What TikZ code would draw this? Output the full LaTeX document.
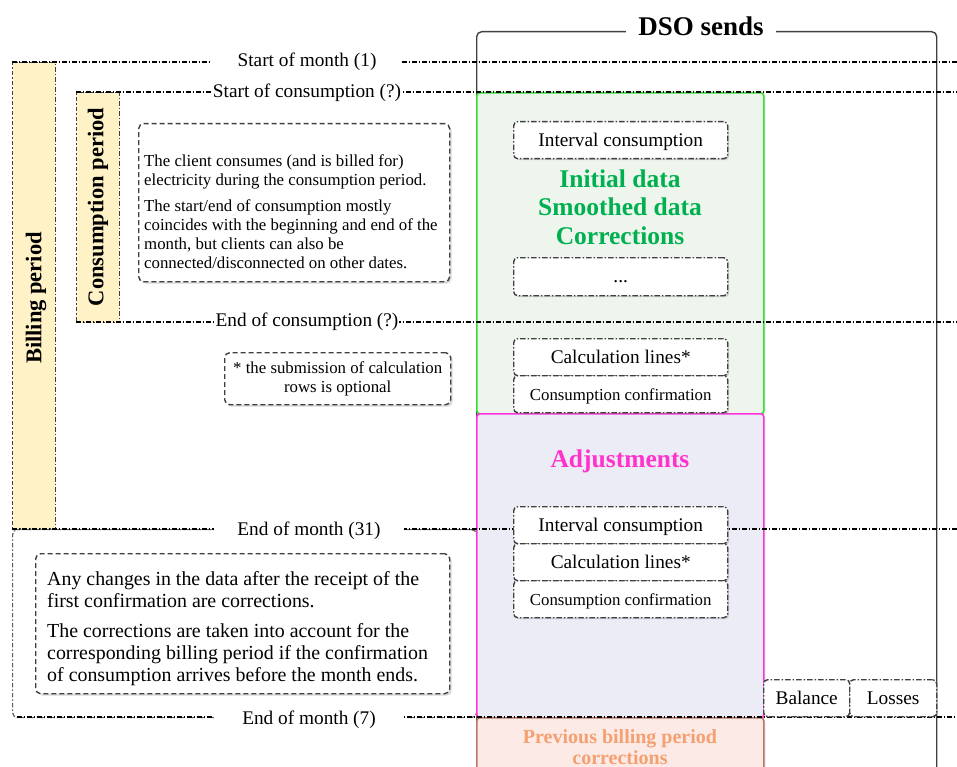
\documentclass[tikz,border=0pt]{standalone}
\usepackage{fontspec}
\setmainfont{Liberation Serif}
\usetikzlibrary{shadows}
\definecolor{periodyellow}{HTML}{FFF2C7}
\definecolor{greenfill}{HTML}{EDF5EC}
\definecolor{greenline}{HTML}{33E033}
\definecolor{greentext}{HTML}{00B050}
\definecolor{magline}{HTML}{FF33DD}
\definecolor{magfill}{HTML}{ECECF6}
\definecolor{magtext}{HTML}{FF33CC}
\definecolor{prevfill}{HTML}{FBEAE6}
\definecolor{prevline}{HTML}{B87868}
\definecolor{prevtext}{HTML}{F4A070}
\definecolor{boxline}{HTML}{404040}
\definecolor{dsoline}{HTML}{404040}
\newcommand\fLab{\fontsize{19.3}{23}\selectfont}
\newcommand\fSm{\fontsize{16.8}{19}\selectfont}
\newcommand\fBig{\fontsize{19.9}{22}\selectfont}
\newcommand\fHead{\fontsize{25.5}{28.5}\selectfont\bfseries}
\newcommand\fTitle{\fontsize{27}{30}\selectfont\bfseries}
\newcommand\fPer{\fontsize{22.5}{25}\selectfont\bfseries}
\newcommand\fPrev{\fontsize{20}{21.5}\selectfont\bfseries}
\begin{document}
\begin{tikzpicture}[x=1pt,y=-1pt,
 dd/.style={dash pattern=on 4.5pt off 2pt on 1.5pt off 2pt},
 periodline/.style={draw=black,line width=1.6pt,dd},
 periodbox/.style={draw=boxline,line width=1.3pt,dd,fill=periodyellow,anchor=north west,inner sep=0pt},
 periodtext/.style={rotate=90,font=\fPer,inner sep=0pt},
 monthlabel/.style={fill=white,font=\fLab,minimum width=190pt,inner sep=2pt},
 conslabel/.style={fill=white,font=\fLab,inner xsep=1pt,inner ysep=1pt},
 phasebox/.style={anchor=north west,inner sep=0pt,line width=1.6pt,rounded corners=3pt,
    drop shadow={shadow xshift=2pt,shadow yshift=-2pt,opacity=0.12}},
 datbox/.style={draw=boxline,line width=1.4pt,dash pattern=on 5.5pt off 2pt on 1.5pt off 2pt,rounded corners=4pt,fill=white,
    drop shadow={shadow xshift=1.5pt,shadow yshift=-1.5pt,opacity=0.3},
    anchor=north west,minimum width=214pt,inner sep=0pt,font=\fLab,text height=16pt,text depth=4pt},
 notebox/.style={draw=boxline,line width=1.4pt,dash pattern=on 5pt off 3pt,rounded corners=5pt,fill=white,
    drop shadow={shadow xshift=2pt,shadow yshift=-2pt,opacity=0.3},anchor=north west,inner sep=0pt},
 sidebox/.style={draw=boxline,line width=1.4pt,dash pattern=on 5.5pt off 2pt on 1.5pt off 2pt,rounded corners=4pt,fill=white,
    anchor=north west,inner sep=0pt,font=\fLab,minimum height=37pt,text height=16pt,text depth=4pt}
]
\useasboundingbox (0,0) rectangle (957,767);

% DSO column
\node[draw=dsoline,line width=1.4pt,rounded corners=5pt,anchor=north west,inner sep=0pt,minimum width=460pt,minimum height=780pt] (dso) at (476,31) {};

% periods
\node[periodbox,minimum width=43pt,minimum height=466pt] (billing) at (12,62) {};
\node[periodtext] (billingtext) at (36,298) {Billing period};
\node[periodbox,minimum width=43pt,minimum height=230pt] (consbox) at (76,92) {};
\node[periodtext] (constext) at (98,207) {Consumption period};

% late region
\node[draw=boxline!85,line width=1.2pt,dd,rounded corners=5pt,anchor=north west,inner sep=0pt,minimum width=464pt,minimum height=188pt] (lateregion) at (12,529) {};

% phase boxes
\node[phasebox,draw=greenline,fill=greenfill,minimum width=287pt,minimum height=321pt] (initbox) at (476,92) {};
\node[phasebox,draw=magline,fill=magfill,minimum width=287pt,minimum height=304pt] (adjbox) at (476,413) {};
\node[phasebox,draw=prevline,fill=prevfill,minimum width=287pt,minimum height=90pt] (prevbox) at (476,717) {};

% period lines
\coordinate (som-w) at (12,62);   \coordinate (som-e) at (957,62);
\coordinate (soc-w) at (76,92);   \coordinate (soc-e) at (957,92);
\coordinate (eoc-w) at (76,322);  \coordinate (eoc-e) at (957,322);
\coordinate (eom31-w) at (12,529); \coordinate (eom31-e) at (957,529);
\coordinate (eom7-w) at (17,717);  \coordinate (eom7-e) at (957,717);
\draw[periodline] (som-w) -- (som-e);
\draw[periodline] (soc-w) -- (soc-e);
\draw[periodline] (eoc-w) -- (eoc-e);
\draw[periodline] (eom31-w) -- (eom31-e);
\draw[periodline] (eom7-w) -- (eom7-e);

\node[monthlabel] (somlab) at (307,62) {Start of month (1)};
\node[conslabel] (soclab) at (307,93) {Start of consumption (?)};
\node[conslabel] (eoclab) at (307,322) {End of consumption (?)};
\node[monthlabel] (eom31lab) at (309,531) {End of month (31)};
\node[monthlabel] (eom7lab) at (309,720) {End of month (7)};

% data boxes
\node[datbox,minimum height=37pt] (ic1) at (513,121) {Interval consumption};
\node[datbox,minimum height=38pt] (dots) at (513,257) {...};
\node[datbox,minimum height=37pt] (cl1) at (513,338) {Calculation lines*};
\node[datbox,minimum height=37pt,font=\fSm] (cc1) at (513,375) {Consumption confirmation};
\node[datbox,minimum height=37pt] (ic2) at (513,506) {Interval consumption};
\node[datbox,minimum height=37pt] (cl2) at (513,543) {Calculation lines*};
\node[datbox,minimum height=37pt,font=\fSm] (cc2) at (513,580) {Consumption confirmation};
\node[sidebox,minimum width=86pt] (balance) at (763,679) {Balance};
\node[sidebox,minimum width=87pt] (losses) at (849,679) {Losses};

% headings
\node[font=\fHead,text=greentext,align=center] (inithead) at (620,207) {Initial data\\Smoothed data\\Corrections};
\node[font=\fHead,text=magtext] (adjhead) at (620,461) {Adjustments};
\node[font=\fPrev,text=prevtext,align=center] (prevhead) at (620,747) {Previous billing period\\corrections};

% notes
\node[notebox,minimum width=311pt,minimum height=158pt] (note1) at (138,123) {};
\node[anchor=north west,inner sep=0pt,align=left,font=\fSm] (note1text) at (144,154)
 {The client consumes (and is billed for)\\electricity during the consumption period.\\[7pt]The start/end of consumption mostly\\coincides with the beginning and end of the\\month, but clients can also be\\connected/disconnected on other dates.};
\node[notebox,minimum width=226pt,minimum height=52pt,font=\fSm,align=center] (note2) at (224,352) {* the submission of calculation\\rows is optional};
\node[notebox,minimum width=414pt,minimum height=140pt] (note3) at (35,553) {};
\node[anchor=north west,inner sep=0pt,align=left,font=\fBig] (note3text) at (47,571)
 {Any changes in the data after the receipt of the\\first confirmation are corrections.\\[8pt]The corrections are taken into account for the\\corresponding billing period if the confirmation\\of consumption arrives before the month ends.};

% title
\node[fill=white,font=\fTitle,inner xsep=12pt,inner ysep=2pt] (dsotitle) at (701,26) {DSO sends};
\end{tikzpicture}
\end{document}
